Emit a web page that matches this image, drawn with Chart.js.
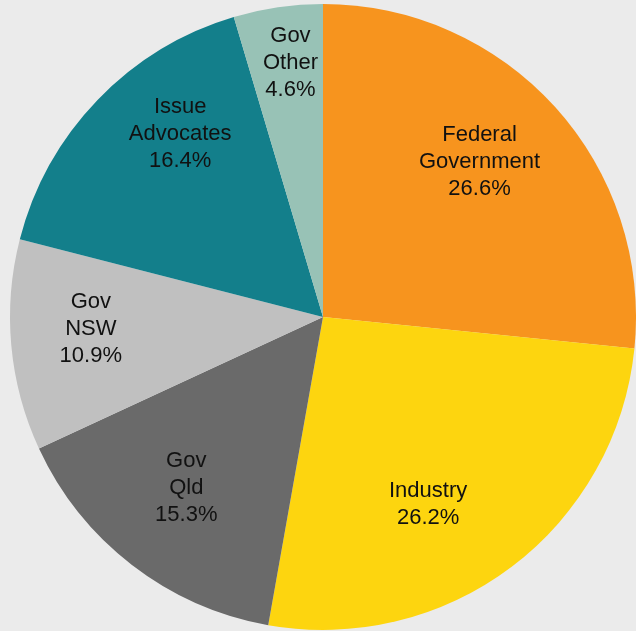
<!DOCTYPE html>
<html>
<head>
<meta charset="utf-8">
<script src="https://cdn.jsdelivr.net/npm/chart.js@4/dist/chart.umd.min.js"></script>
<style>
  html, body { margin: 0; padding: 0; background: #ebebeb; }
  #wrap { width: 636px; height: 631px; }
</style>
</head>
<body>
<div id="wrap"><canvas id="c" width="636" height="631"></canvas></div>
<script>
// Share of submissions by source
const categories = ["Federal\nGovernment", "Industry", "Gov\nQld", "Gov\nNSW", "Issue\nAdvocates", "Gov\nOther"];
const shares = [26.6, 26.2, 15.3, 10.9, 16.4, 4.6];
const sliceColors = ["#f7941e", "#fdd50f", "#6a6a6a", "#c0c0c0", "#137f8b", "#98c2b6"];

// Per-slice label nudges (px) away from the default position at 70% of the radius
const labelNudges = [[-6, -8], [-27, 13], [-3, -3], [-14, -8], [15, -31], [-1, -37]];

const sliceLabels = {
  id: "sliceLabels",
  afterDatasetsDraw(chart) {
    const ctx = chart.ctx;
    const meta = chart.getDatasetMeta(0);
    ctx.save();
    ctx.font = "22px 'Liberation Sans', Arial, sans-serif";
    ctx.fillStyle = "#111111";
    ctx.textAlign = "center";
    ctx.textBaseline = "middle";
    const lineH = 27;
    meta.data.forEach((arc, i) => {
      const p = arc.getProps(["x", "y", "startAngle", "endAngle", "outerRadius"], true);
      const mid = (p.startAngle + p.endAngle) / 2;
      const r = p.outerRadius * 0.7;
      const cx = p.x + Math.cos(mid) * r + labelNudges[i][0];
      const cy = p.y + Math.sin(mid) * r + labelNudges[i][1];
      const lines = categories[i].split("\n").concat([shares[i].toFixed(1) + "%"]);
      const top = cy - (lines.length - 1) * lineH / 2;
      lines.forEach((t, k) => ctx.fillText(t, cx, top + k * lineH));
    });
    ctx.restore();
  }
};

new Chart(document.getElementById("c"), {
  type: "pie",
  data: {
    labels: categories.map(c => c.replace("\n", " ")),
    datasets: [{
      data: shares,
      backgroundColor: sliceColors,
      borderWidth: 0
    }]
  },
  options: {
    responsive: false,
    animation: false,
    layout: { padding: { left: 10, right: 0, top: 4, bottom: 1 } },
    plugins: {
      legend: { display: false },
      tooltip: { enabled: false }
    }
  },
  plugins: [sliceLabels]
});
</script>
</body>
</html>
